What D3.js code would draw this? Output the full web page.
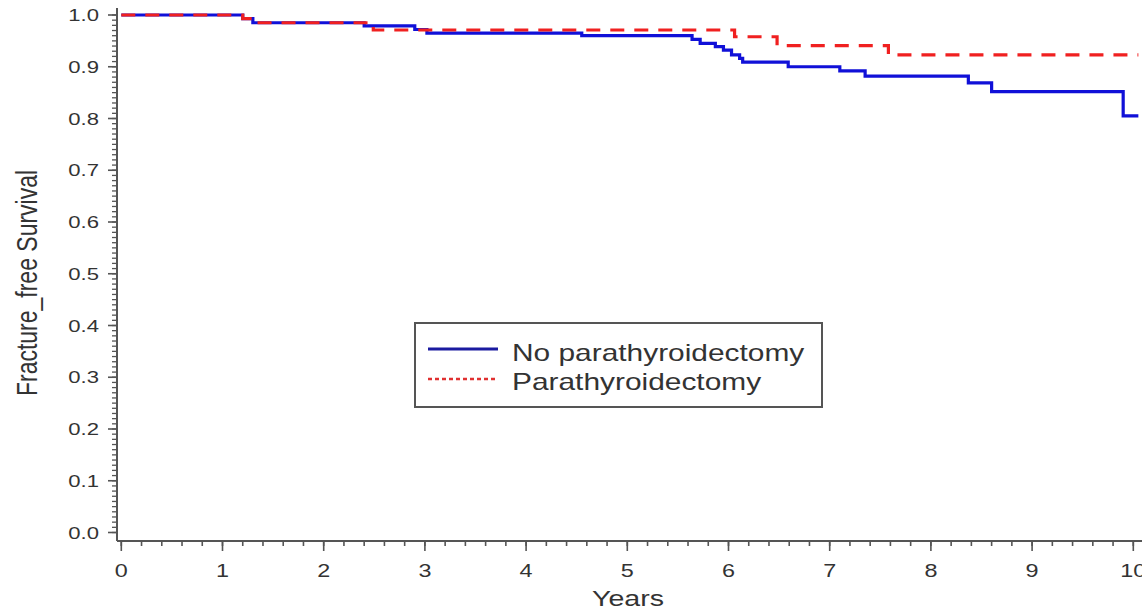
<!DOCTYPE html>
<html>
<head>
<meta charset="utf-8">
<script src="https://cdn.jsdelivr.net/npm/d3@7"></script>
<style>
  html, body { margin: 0; padding: 0; background: #fff; }
  svg { display: block; }
  text { font-family: "Liberation Sans", Arial, sans-serif; fill: #333; }
</style>
</head>
<body>
<svg id="chart" width="1142" height="609"></svg>
<script>
// Kaplan-Meier step data (time in years, survival)
const noPtxTimes = [0, 1.2, 1.3, 2.4, 2.9, 3.02, 4.55, 5.64, 5.72, 5.87, 5.95, 6.03, 6.11, 6.14, 6.59, 7.1, 7.35, 8.37, 8.6, 9.9, 10.05];
const noPtxSurv  = [1.0, 0.993, 0.985, 0.979, 0.972, 0.965, 0.960, 0.953, 0.945, 0.939, 0.932, 0.923, 0.916, 0.909, 0.900, 0.892, 0.882, 0.869, 0.852, 0.805, 0.805];
const ptxTimes = [0, 1.2, 1.3, 2.49, 6.06, 6.48, 7.58, 10.05];
const ptxSurv  = [1.0, 0.993, 0.985, 0.971, 0.958, 0.941, 0.923, 0.923];

const xTicks = [0,1,2,3,4,5,6,7,8,9,10];
const yTicks = [0.0,0.1,0.2,0.3,0.4,0.5,0.6,0.7,0.8,0.9,1.0];
const seriesNames = ["No parathyroidectomy", "Parathyroidectomy"];
const xTitle = "Years";
const yTitle = "Fracture_free Survival";

const svg = d3.select("#chart");
const SX = 1.3; // horizontal text stretch of the original figure

const x = d3.scaleLinear().domain([0, 10]).range([121.3, 1133.3]);
const y = d3.scaleLinear().domain([0, 1]).range([532.5, 15]);

const axisColor = "#555";

const xAxisY = 541;
const yAxisX = 117;
svg.append("line").attr("x1", yAxisX).attr("x2", 1142).attr("y1", xAxisY).attr("y2", xAxisY)
  .attr("stroke", axisColor).attr("stroke-width", 2);
svg.append("line").attr("x1", yAxisX).attr("x2", yAxisX).attr("y1", 8).attr("y2", xAxisY)
  .attr("stroke", axisColor).attr("stroke-width", 2);

// x ticks
const xMinor = d3.range(0, 10.01, 0.2);
svg.selectAll(".xminor").data(xMinor).enter().append("line")
  .attr("x1", d => x(d)).attr("x2", d => x(d))
  .attr("y1", xAxisY).attr("y2", xAxisY + 5)
  .attr("stroke", axisColor).attr("stroke-width", 1.6);
svg.selectAll(".xmajor").data(xTicks).enter().append("line")
  .attr("x1", d => x(d)).attr("x2", d => x(d))
  .attr("y1", xAxisY).attr("y2", xAxisY + 10)
  .attr("stroke", axisColor).attr("stroke-width", 1.6);
svg.selectAll(".xlab").data(xTicks).enter().append("text")
  .attr("transform", d => `translate(${x(d)},${577}) scale(${SX},1)`)
  .attr("text-anchor", "middle").attr("font-size", 18)
  .text(d => d3.format("d")(d));

// y ticks
const yMinor = d3.range(0, 100.5, 1).map(v => v / 100);
svg.selectAll(".yminor").data(yMinor).enter().append("line")
  .attr("x1", yAxisX - 5).attr("x2", yAxisX)
  .attr("y1", d => y(d)).attr("y2", d => y(d))
  .attr("stroke", axisColor).attr("stroke-width", 1.3);
svg.selectAll(".ymajor").data(yTicks).enter().append("line")
  .attr("x1", yAxisX - 9).attr("x2", yAxisX)
  .attr("y1", d => y(d)).attr("y2", d => y(d))
  .attr("stroke", axisColor).attr("stroke-width", 1.6);
svg.selectAll(".ylab").data(yTicks).enter().append("text")
  .attr("transform", d => `translate(99,${y(d) + 6}) scale(${SX},1)`)
  .attr("text-anchor", "end").attr("font-size", 17)
  .text(d => d3.format(".1f")(d));

// titles
svg.append("text")
  .attr("transform", `translate(628,606) scale(${SX},1)`)
  .attr("text-anchor", "middle").attr("font-size", 22)
  .text(xTitle);
svg.append("text")
  .attr("transform", `translate(37,283) rotate(-90) scale(1,${SX})`)
  .attr("text-anchor", "middle").attr("font-size", 23)
  .text(yTitle);

// step curves
const line = d3.line().x(d => x(d[0])).y(d => y(d[1])).curve(d3.curveStepAfter);
const noPtx = noPtxTimes.map((t, i) => [t, noPtxSurv[i]]);
const ptx = ptxTimes.map((t, i) => [t, ptxSurv[i]]);

svg.append("path").datum(noPtx).attr("d", line)
  .attr("fill", "none").attr("stroke", "#1010d8").attr("stroke-width", 3.2);
svg.append("path").datum(ptx).attr("d", line)
  .attr("fill", "none").attr("stroke", "#f02020").attr("stroke-width", 3.2)
  .attr("stroke-dasharray", "14,10");

// legend
const lg = svg.append("g");
lg.append("rect").attr("x", 415).attr("y", 323).attr("width", 407).attr("height", 84)
  .attr("fill", "#fff").attr("stroke", "#555").attr("stroke-width", 2);
lg.append("line").attr("x1", 428).attr("x2", 498).attr("y1", 349).attr("y2", 349)
  .attr("stroke", "#1a1aa0").attr("stroke-width", 3);
lg.append("line").attr("x1", 428).attr("x2", 498).attr("y1", 379).attr("y2", 379)
  .attr("stroke", "#e03030").attr("stroke-width", 2.5).attr("stroke-dasharray", "4,3");
lg.selectAll(".ltext").data(seriesNames).enter().append("text")
  .attr("transform", (d, i) => `translate(512,${361 + i * 29}) scale(${SX},1)`)
  .attr("font-size", 23)
  .text(d => d);
</script>
</body>
</html>
